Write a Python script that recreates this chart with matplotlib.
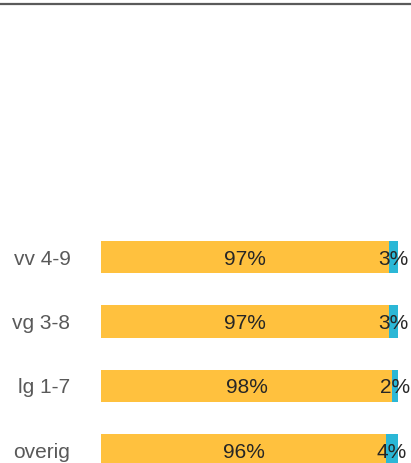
import matplotlib
matplotlib.use('Agg')
import matplotlib.pyplot as plt
from matplotlib.lines import Line2D

groups = ['vv 4-9', 'vg 3-8', 'lg 1-7', 'overig']
ja = [97, 97, 98, 96]
nee = [3, 3, 2, 4]

geel = '#FFC13E'
blauw = '#2BB7D6'

plt.rcParams['font.family'] = ['Liberation Sans', 'DejaVu Sans']

fig = plt.figure(figsize=(4.11, 4.63), dpi=100)
ax = fig.add_axes([101 / 411, 0, 297 / 411, 1])

pos = list(range(len(groups)))
ax.barh(pos, ja, height=0.5, color=geel)
ax.barh(pos, nee, left=ja, height=0.5, color=blauw)

for i in pos:
    ax.text(ja[i] / 2, i, '%d%%' % ja[i], ha='center', va='center_baseline',
            fontsize=15, color='#262626')
    ax.text(ja[i] + nee[i] / 2, i, '%d%%' % nee[i], ha='center',
            va='center_baseline', fontsize=15, color='#262626', clip_on=False)

ax.set_xlim(0, 100)
ax.set_ylim(3.2, -4.0)
ax.set_yticks(pos)
ax.set_yticklabels(groups, fontsize=15, color='#595959')
ax.tick_params(axis='y', length=0, pad=22)
ax.set_xticks([])
for s in ax.spines.values():
    s.set_visible(False)

# grijze lijn bovenaan
fig.add_artist(Line2D([0, 1], [1 - 4 / 463, 1 - 4 / 463], color='#5a5a5a',
                      lw=1.6, transform=fig.transFigure))

fig.savefig('out.png', dpi=100)
